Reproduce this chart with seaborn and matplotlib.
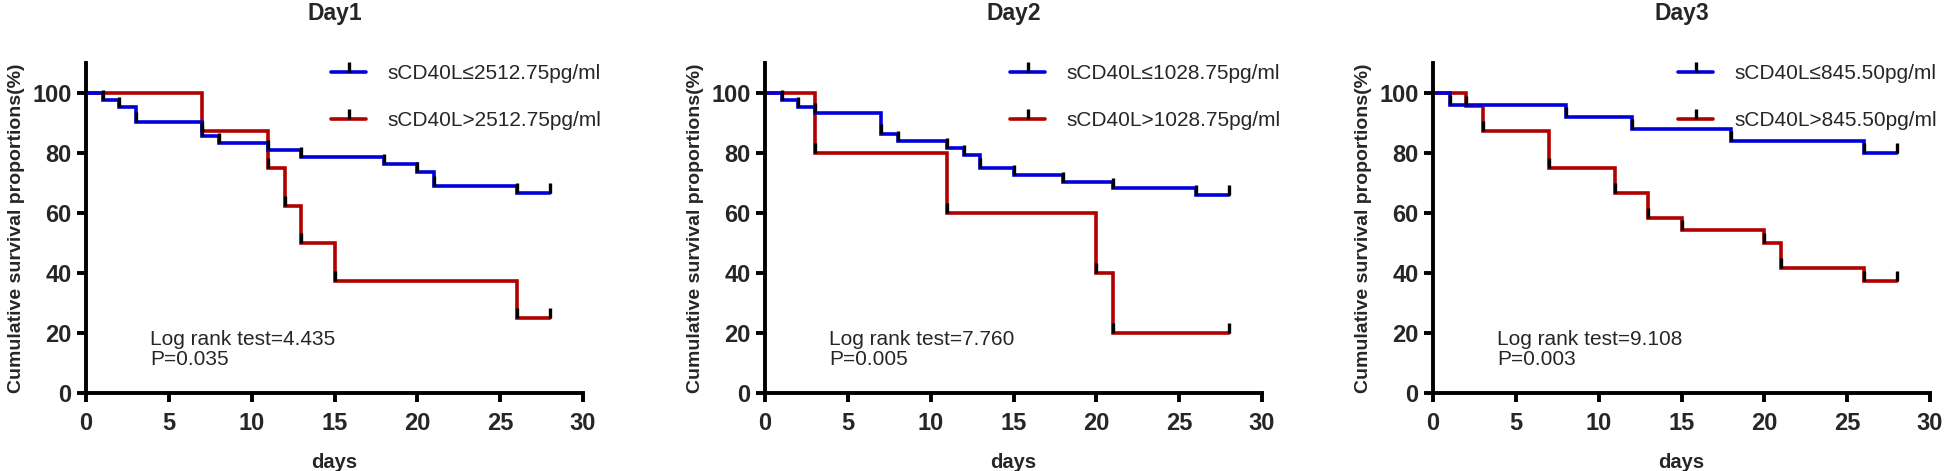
import numpy as np
import pandas as pd
import matplotlib
matplotlib.use("Agg")
import matplotlib.pyplot as plt
from matplotlib.lines import Line2D
import seaborn as sns

# ---------------- data ----------------
panel_titles = ["Day1", "Day2", "Day3"]
low_labels = ["sCD40L\u22642512.75pg/ml", "sCD40L\u22641028.75pg/ml", "sCD40L\u2264845.50pg/ml"]
high_labels = ["sCD40L>2512.75pg/ml", "sCD40L>1028.75pg/ml", "sCD40L>845.50pg/ml"]
stat_texts = ["Log rank test=4.435\nP=0.035", "Log rank test=7.760\nP=0.005", "Log rank test=9.108\nP=0.003"]

day1_low_t = [0, 1, 2, 3, 7, 8, 11, 13, 18, 20, 21, 26, 28]
day1_low_s = [100, 97.6, 95.2, 90.5, 85.7, 83.3, 81.0, 78.6, 76.2, 73.8, 69.0, 66.7, 66.7]
day1_high_t = [0, 7, 11, 12, 13, 15, 26, 28]
day1_high_s = [100, 87.5, 75.0, 62.5, 50.0, 37.5, 25.0, 25.0]

day2_low_t = [0, 1, 2, 3, 7, 8, 11, 12, 13, 15, 18, 21, 26, 28]
day2_low_s = [100, 97.7, 95.5, 93.2, 86.4, 84.1, 81.8, 79.5, 75.0, 72.7, 70.5, 68.2, 65.9, 65.9]
day2_high_t = [0, 3, 11, 20, 21, 28]
day2_high_s = [100, 80, 60, 40, 20, 20]

day3_low_t = [0, 1, 8, 12, 18, 26, 28]
day3_low_s = [100, 96, 92, 88, 84, 80, 80]
day3_high_t = [0, 2, 3, 7, 11, 13, 15, 20, 21, 26, 28]
day3_high_s = [100, 95.8, 87.5, 75.0, 66.7, 58.3, 54.2, 50.0, 41.7, 37.5, 37.5]

x_ticks = [0, 5, 10, 15, 20, 25, 30]
y_ticks = [0, 20, 40, 60, 80, 100]

panels = [
    (day1_low_t, day1_low_s, day1_high_t, day1_high_s),
    (day2_low_t, day2_low_s, day2_high_t, day2_high_s),
    (day3_low_t, day3_low_s, day3_high_t, day3_high_s),
]

# ---------------- style ----------------
sns.set_style("ticks")
plt.rcParams["font.family"] = ["Liberation Sans", "DejaVu Sans"]

BLUE = "#0000d8"
RED = "#b00000"
LW = 2.6
SPW = 2.8

fig = plt.figure(figsize=(19.46, 4.71), dpi=100)
lefts = [86 / 1946, 765 / 1946, 1433 / 1946]
bottom = 78 / 471
width = 497 / 1946
height = 330 / 471

for i, (lt, ls, ht, hs) in enumerate(panels):
    ax = fig.add_axes([lefts[i], bottom, width, height])
    for t, s, col in [(ht, hs, RED), (lt, ls, BLUE)]:
        df = pd.DataFrame({"days": t, "surv": s})
        sns.lineplot(data=df, x="days", y="surv", ax=ax, color=col, lw=LW,
                     drawstyle="steps-post", estimator=None, sort=False,
                     solid_joinstyle="miter")
        # black ticks at each drop and at the final censored time
        ax.plot(df["days"].iloc[1:], df["surv"].iloc[1:], linestyle="none",
                marker=2, color="black", markersize=7, mew=2.4, zorder=5)

    ax.set_xlim(0, 30)
    ax.set_ylim(0, 110)
    ax.set_xticks(x_ticks)
    ax.set_yticks(y_ticks)
    sns.despine(ax=ax)
    for sp in ["left", "bottom"]:
        ax.spines[sp].set_linewidth(SPW)
        ax.spines[sp].set_color("black")
    ax.tick_params(axis="both", length=6.5, width=SPW, color="black",
                   labelsize=17)
    ax.tick_params(axis="x", pad=7)
    ax.tick_params(axis="y", pad=4)
    for lab in ax.get_xticklabels() + ax.get_yticklabels():
        lab.set_fontweight("bold")
    ax.set_xlabel("days", fontsize=14.5, fontweight="bold", labelpad=13)
    ax.set_ylabel("Cumulative survival proportions(%)", fontsize=14,
                  fontweight="bold", labelpad=5)
    ax.set_title(panel_titles[i], fontsize=16.5, fontweight="bold", pad=31)

    ax.text(0.129, 0.132, stat_texts[i], transform=ax.transAxes, fontsize=15,
            va="center", ha="left", linespacing=1.05)

    handles = [
        Line2D([0], [0], color=BLUE, lw=LW, marker=2, markeredgecolor="black",
               markersize=7, mew=2.4),
        Line2D([0], [0], color=RED, lw=LW, marker=2, markeredgecolor="black",
               markersize=7, mew=2.4),
    ]
    ax.legend(handles, [low_labels[i], high_labels[i]], loc="upper left",
              bbox_to_anchor=(0.493, 0.996), frameon=False, borderpad=0,
              borderaxespad=0, handlelength=1.7, handletextpad=1.0,
              labelspacing=1.35, fontsize=15, numpoints=1)

fig.savefig("out.png", dpi=100)
